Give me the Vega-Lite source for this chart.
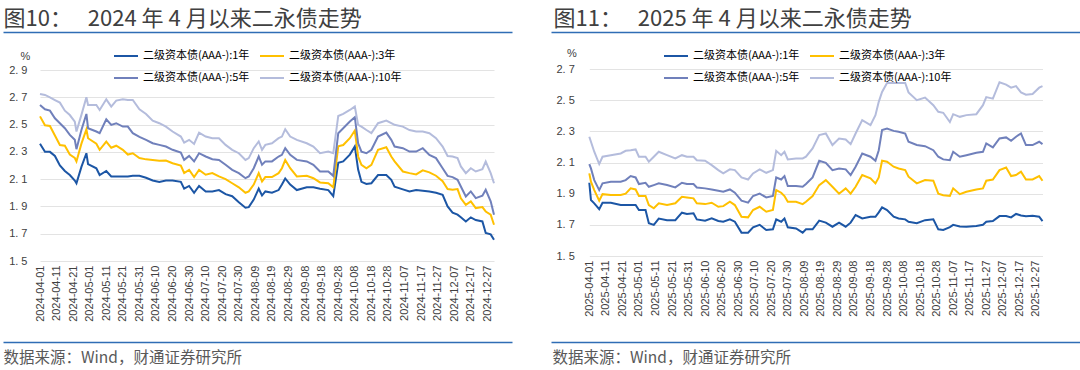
{
"$schema": "https://vega.github.io/schema/vega-lite/v6.json",
"autosize": {"type": "none"},
"padding": {"left": 3, "top": 32, "right": 0, "bottom": 28},
"width": 1077,
"height": 310,
"background": "#ffffff",
"config": {"view": {"stroke": null}, "font": "Liberation Sans"},
"datasets": {
"a": [
{"d":"2024-04-01","s":"1年","v":2.36},{"d":"2024-04-04","s":"1年","v":2.30},{"d":"2024-04-07","s":"1年","v":2.30},{"d":"2024-04-10","s":"1年","v":2.27},{"d":"2024-04-13","s":"1年","v":2.20},{"d":"2024-04-16","s":"1年","v":2.16},{"d":"2024-04-19","s":"1年","v":2.13},{"d":"2024-04-22","s":"1年","v":2.09},{"d":"2024-04-23","s":"1年","v":2.07},{"d":"2024-04-26","s":"1年","v":2.19},
{"d":"2024-04-29","s":"1年","v":2.29},{"d":"2024-04-30","s":"1年","v":2.21},{"d":"2024-05-05","s":"1年","v":2.18},{"d":"2024-05-07","s":"1年","v":2.13},{"d":"2024-05-11","s":"1年","v":2.16},{"d":"2024-05-14","s":"1年","v":2.12},{"d":"2024-05-17","s":"1年","v":2.12},{"d":"2024-05-21","s":"1年","v":2.12},{"d":"2024-05-24","s":"1年","v":2.12},{"d":"2024-05-27","s":"1年","v":2.125},
{"d":"2024-05-31","s":"1年","v":2.125},{"d":"2024-06-04","s":"1年","v":2.11},{"d":"2024-06-08","s":"1年","v":2.09},{"d":"2024-06-12","s":"1年","v":2.08},{"d":"2024-06-16","s":"1年","v":2.09},{"d":"2024-06-20","s":"1年","v":2.09},{"d":"2024-06-25","s":"1年","v":2.08},{"d":"2024-06-27","s":"1年","v":2.03},{"d":"2024-06-30","s":"1年","v":2.05},{"d":"2024-07-03","s":"1年","v":2.00},
{"d":"2024-07-06","s":"1年","v":2.05},{"d":"2024-07-10","s":"1年","v":2.01},{"d":"2024-07-14","s":"1年","v":2.01},{"d":"2024-07-18","s":"1年","v":2.02},{"d":"2024-07-22","s":"1年","v":1.99},{"d":"2024-07-26","s":"1年","v":1.975},{"d":"2024-07-30","s":"1年","v":1.93},{"d":"2024-08-03","s":"1年","v":1.89},{"d":"2024-08-05","s":"1年","v":1.895},{"d":"2024-08-08","s":"1年","v":1.95},
{"d":"2024-08-11","s":"1年","v":2.03},{"d":"2024-08-13","s":"1年","v":1.98},{"d":"2024-08-15","s":"1年","v":2.01},{"d":"2024-08-19","s":"1年","v":2.00},{"d":"2024-08-23","s":"1年","v":2.02},{"d":"2024-08-25","s":"1年","v":2.06},{"d":"2024-08-27","s":"1年","v":2.105},{"d":"2024-08-30","s":"1年","v":2.06},{"d":"2024-09-03","s":"1年","v":2.02},{"d":"2024-09-09","s":"1年","v":2.04},
{"d":"2024-09-13","s":"1年","v":2.04},{"d":"2024-09-17","s":"1年","v":2.03},{"d":"2024-09-22","s":"1年","v":2.02},{"d":"2024-09-25","s":"1年","v":1.975},{"d":"2024-09-28","s":"1年","v":2.22},{"d":"2024-10-01","s":"1年","v":2.23},{"d":"2024-10-05","s":"1年","v":2.28},{"d":"2024-10-08","s":"1年","v":2.34},{"d":"2024-10-10","s":"1年","v":2.17},{"d":"2024-10-12","s":"1年","v":2.08},
{"d":"2024-10-15","s":"1年","v":2.065},{"d":"2024-10-18","s":"1年","v":2.07},{"d":"2024-10-22","s":"1年","v":2.13},{"d":"2024-10-27","s":"1年","v":2.13},{"d":"2024-10-30","s":"1年","v":2.095},{"d":"2024-11-01","s":"1年","v":2.045},{"d":"2024-11-06","s":"1年","v":2.025},{"d":"2024-11-10","s":"1年","v":2.01},{"d":"2024-11-14","s":"1年","v":2.02},{"d":"2024-11-18","s":"1年","v":2.015},
{"d":"2024-11-22","s":"1年","v":2.01},{"d":"2024-11-26","s":"1年","v":2.00},{"d":"2024-11-30","s":"1年","v":1.985},{"d":"2024-12-03","s":"1年","v":1.90},{"d":"2024-12-06","s":"1年","v":1.855},{"d":"2024-12-09","s":"1年","v":1.84},{"d":"2024-12-11","s":"1年","v":1.82},{"d":"2024-12-14","s":"1年","v":1.79},{"d":"2024-12-17","s":"1年","v":1.82},{"d":"2024-12-20","s":"1年","v":1.80},
{"d":"2024-12-24","s":"1年","v":1.79},{"d":"2024-12-26","s":"1年","v":1.705},{"d":"2024-12-29","s":"1年","v":1.695},{"d":"2024-12-31","s":"1年","v":1.655},

{"d":"2024-04-01","s":"3年","v":2.56},{"d":"2024-04-04","s":"3年","v":2.495},{"d":"2024-04-07","s":"3年","v":2.49},{"d":"2024-04-10","s":"3年","v":2.42},{"d":"2024-04-13","s":"3年","v":2.35},{"d":"2024-04-16","s":"3年","v":2.345},{"d":"2024-04-19","s":"3年","v":2.28},{"d":"2024-04-22","s":"3年","v":2.255},{"d":"2024-04-23","s":"3年","v":2.23},{"d":"2024-04-26","s":"3年","v":2.36},
{"d":"2024-04-29","s":"3年","v":2.465},{"d":"2024-04-30","s":"3年","v":2.40},{"d":"2024-05-05","s":"3年","v":2.36},{"d":"2024-05-07","s":"3年","v":2.315},{"d":"2024-05-11","s":"3年","v":2.375},{"d":"2024-05-14","s":"3年","v":2.33},{"d":"2024-05-17","s":"3年","v":2.345},{"d":"2024-05-21","s":"3年","v":2.315},{"d":"2024-05-24","s":"3年","v":2.28},{"d":"2024-05-27","s":"3年","v":2.29},
{"d":"2024-05-31","s":"3年","v":2.255},{"d":"2024-06-04","s":"3年","v":2.245},{"d":"2024-06-08","s":"3年","v":2.24},{"d":"2024-06-12","s":"3年","v":2.235},{"d":"2024-06-16","s":"3年","v":2.237},{"d":"2024-06-20","s":"3年","v":2.217},{"d":"2024-06-25","s":"3年","v":2.20},{"d":"2024-06-27","s":"3年","v":2.145},{"d":"2024-06-30","s":"3年","v":2.168},{"d":"2024-07-03","s":"3年","v":2.115},
{"d":"2024-07-06","s":"3年","v":2.168},{"d":"2024-07-10","s":"3年","v":2.132},{"d":"2024-07-14","s":"3年","v":2.144},{"d":"2024-07-18","s":"3年","v":2.12},{"d":"2024-07-22","s":"3年","v":2.10},{"d":"2024-07-26","s":"3年","v":2.07},{"d":"2024-07-30","s":"3年","v":2.04},{"d":"2024-08-03","s":"3年","v":2.00},{"d":"2024-08-05","s":"3年","v":2.01},{"d":"2024-08-08","s":"3年","v":2.06},
{"d":"2024-08-11","s":"3年","v":2.144},{"d":"2024-08-13","s":"3年","v":2.083},{"d":"2024-08-15","s":"3年","v":2.115},{"d":"2024-08-19","s":"3年","v":2.115},{"d":"2024-08-23","s":"3年","v":2.144},{"d":"2024-08-25","s":"3年","v":2.18},{"d":"2024-08-27","s":"3年","v":2.24},{"d":"2024-08-30","s":"3年","v":2.18},{"d":"2024-09-03","s":"3年","v":2.12},{"d":"2024-09-09","s":"3年","v":2.125},
{"d":"2024-09-13","s":"3年","v":2.107},{"d":"2024-09-17","s":"3年","v":2.076},{"d":"2024-09-22","s":"3年","v":2.07},{"d":"2024-09-25","s":"3年","v":2.04},{"d":"2024-09-28","s":"3年","v":2.34},{"d":"2024-10-01","s":"3年","v":2.35},{"d":"2024-10-05","s":"3年","v":2.40},{"d":"2024-10-08","s":"3年","v":2.456},{"d":"2024-10-10","s":"3年","v":2.266},{"d":"2024-10-12","s":"3年","v":2.205},
{"d":"2024-10-15","s":"3年","v":2.18},{"d":"2024-10-18","s":"3年","v":2.205},{"d":"2024-10-22","s":"3年","v":2.315},{"d":"2024-10-27","s":"3年","v":2.334},{"d":"2024-10-30","s":"3年","v":2.266},{"d":"2024-11-01","s":"3年","v":2.23},{"d":"2024-11-06","s":"3年","v":2.156},{"d":"2024-11-10","s":"3年","v":2.144},{"d":"2024-11-14","s":"3年","v":2.135},{"d":"2024-11-18","s":"3年","v":2.165},
{"d":"2024-11-22","s":"3年","v":2.15},{"d":"2024-11-26","s":"3年","v":2.125},{"d":"2024-11-30","s":"3年","v":2.085},{"d":"2024-12-03","s":"3年","v":2.027},{"d":"2024-12-06","s":"3年","v":2.022},{"d":"2024-12-09","s":"3年","v":2.027},{"d":"2024-12-11","s":"3年","v":1.96},{"d":"2024-12-14","s":"3年","v":1.912},{"d":"2024-12-17","s":"3年","v":1.937},{"d":"2024-12-20","s":"3年","v":1.888},
{"d":"2024-12-24","s":"3年","v":1.895},{"d":"2024-12-26","s":"3年","v":1.863},{"d":"2024-12-29","s":"3年","v":1.84},{"d":"2024-12-31","s":"3年","v":1.766},

{"d":"2024-04-01","s":"5年","v":2.644},{"d":"2024-04-04","s":"5年","v":2.612},{"d":"2024-04-07","s":"5年","v":2.602},{"d":"2024-04-10","s":"5年","v":2.546},{"d":"2024-04-13","s":"5年","v":2.51},{"d":"2024-04-16","s":"5年","v":2.473},{"d":"2024-04-19","s":"5年","v":2.424},{"d":"2024-04-22","s":"5年","v":2.388},{"d":"2024-04-23","s":"5年","v":2.32},{"d":"2024-04-26","s":"5年","v":2.46},
{"d":"2024-04-29","s":"5年","v":2.578},{"d":"2024-04-30","s":"5年","v":2.473},{"d":"2024-05-05","s":"5年","v":2.449},{"d":"2024-05-07","s":"5年","v":2.437},{"d":"2024-05-11","s":"5年","v":2.539},{"d":"2024-05-14","s":"5年","v":2.498},{"d":"2024-05-17","s":"5年","v":2.51},{"d":"2024-05-21","s":"5年","v":2.485},{"d":"2024-05-24","s":"5年","v":2.485},{"d":"2024-05-27","s":"5年","v":2.437},
{"d":"2024-05-31","s":"5年","v":2.41},{"d":"2024-06-04","s":"5年","v":2.388},{"d":"2024-06-08","s":"5年","v":2.363},{"d":"2024-06-12","s":"5年","v":2.351},{"d":"2024-06-16","s":"5年","v":2.339},{"d":"2024-06-20","s":"5年","v":2.315},{"d":"2024-06-25","s":"5年","v":2.295},{"d":"2024-06-27","s":"5年","v":2.241},{"d":"2024-06-30","s":"5年","v":2.27},{"d":"2024-07-03","s":"5年","v":2.23},
{"d":"2024-07-06","s":"5年","v":2.29},{"d":"2024-07-10","s":"5年","v":2.266},{"d":"2024-07-14","s":"5年","v":2.246},{"d":"2024-07-18","s":"5年","v":2.241},{"d":"2024-07-22","s":"5年","v":2.205},{"d":"2024-07-26","s":"5年","v":2.168},{"d":"2024-07-30","s":"5年","v":2.144},{"d":"2024-08-03","s":"5年","v":2.107},{"d":"2024-08-05","s":"5年","v":2.12},{"d":"2024-08-08","s":"5年","v":2.18},
{"d":"2024-08-11","s":"5年","v":2.266},{"d":"2024-08-13","s":"5年","v":2.205},{"d":"2024-08-15","s":"5年","v":2.23},{"d":"2024-08-19","s":"5年","v":2.23},{"d":"2024-08-23","s":"5年","v":2.266},{"d":"2024-08-25","s":"5年","v":2.278},{"d":"2024-08-27","s":"5年","v":2.327},{"d":"2024-08-30","s":"5年","v":2.278},{"d":"2024-09-03","s":"5年","v":2.241},{"d":"2024-09-09","s":"5年","v":2.23},
{"d":"2024-09-13","s":"5年","v":2.205},{"d":"2024-09-17","s":"5年","v":2.156},{"d":"2024-09-22","s":"5年","v":2.156},{"d":"2024-09-25","s":"5年","v":2.124},{"d":"2024-09-28","s":"5年","v":2.437},{"d":"2024-10-01","s":"5年","v":2.473},{"d":"2024-10-05","s":"5年","v":2.522},{"d":"2024-10-08","s":"5年","v":2.554},{"d":"2024-10-10","s":"5年","v":2.363},{"d":"2024-10-12","s":"5年","v":2.302},
{"d":"2024-10-15","s":"5年","v":2.29},{"d":"2024-10-18","s":"5年","v":2.315},{"d":"2024-10-22","s":"5年","v":2.412},{"d":"2024-10-27","s":"5年","v":2.441},{"d":"2024-10-30","s":"5年","v":2.388},{"d":"2024-11-01","s":"5年","v":2.339},{"d":"2024-11-06","s":"5年","v":2.327},{"d":"2024-11-10","s":"5年","v":2.302},{"d":"2024-11-14","s":"5年","v":2.302},{"d":"2024-11-18","s":"5年","v":2.327},
{"d":"2024-11-22","s":"5年","v":2.278},{"d":"2024-11-26","s":"5年","v":2.254},{"d":"2024-11-30","s":"5年","v":2.18},{"d":"2024-12-03","s":"5年","v":2.124},{"d":"2024-12-06","s":"5年","v":2.115},{"d":"2024-12-09","s":"5年","v":2.095},{"d":"2024-12-11","s":"5年","v":2.046},{"d":"2024-12-14","s":"5年","v":1.973},{"d":"2024-12-17","s":"5年","v":2.01},{"d":"2024-12-20","s":"5年","v":1.961},
{"d":"2024-12-24","s":"5年","v":1.978},{"d":"2024-12-26","s":"5年","v":2.022},{"d":"2024-12-29","s":"5年","v":1.937},{"d":"2024-12-31","s":"5年","v":1.839},

{"d":"2024-04-01","s":"10年","v":2.724},{"d":"2024-04-04","s":"10年","v":2.717},{"d":"2024-04-07","s":"10年","v":2.70},{"d":"2024-04-10","s":"10年","v":2.68},{"d":"2024-04-13","s":"10年","v":2.661},{"d":"2024-04-16","s":"10年","v":2.602},{"d":"2024-04-19","s":"10年","v":2.57},{"d":"2024-04-22","s":"10年","v":2.522},{"d":"2024-04-23","s":"10年","v":2.449},{"d":"2024-04-26","s":"10年","v":2.571},
{"d":"2024-04-29","s":"10年","v":2.70},{"d":"2024-04-30","s":"10年","v":2.644},{"d":"2024-05-05","s":"10年","v":2.644},{"d":"2024-05-07","s":"10年","v":2.607},{"d":"2024-05-11","s":"10年","v":2.685},{"d":"2024-05-14","s":"10年","v":2.632},{"d":"2024-05-17","s":"10年","v":2.676},{"d":"2024-05-21","s":"10年","v":2.685},{"d":"2024-05-24","s":"10年","v":2.68},{"d":"2024-05-27","s":"10年","v":2.68},
{"d":"2024-05-31","s":"10年","v":2.612},{"d":"2024-06-04","s":"10年","v":2.578},{"d":"2024-06-08","s":"10年","v":2.529},{"d":"2024-06-12","s":"10年","v":2.51},{"d":"2024-06-16","s":"10年","v":2.485},{"d":"2024-06-20","s":"10年","v":2.449},{"d":"2024-06-25","s":"10年","v":2.412},{"d":"2024-06-27","s":"10年","v":2.368},{"d":"2024-06-30","s":"10年","v":2.388},{"d":"2024-07-03","s":"10年","v":2.358},
{"d":"2024-07-06","s":"10年","v":2.441},{"d":"2024-07-10","s":"10年","v":2.412},{"d":"2024-07-14","s":"10年","v":2.40},{"d":"2024-07-18","s":"10年","v":2.40},{"d":"2024-07-22","s":"10年","v":2.351},{"d":"2024-07-26","s":"10年","v":2.315},{"d":"2024-07-30","s":"10年","v":2.29},{"d":"2024-08-03","s":"10年","v":2.241},{"d":"2024-08-05","s":"10年","v":2.254},{"d":"2024-08-08","s":"10年","v":2.327},
{"d":"2024-08-11","s":"10年","v":2.376},{"d":"2024-08-13","s":"10年","v":2.315},{"d":"2024-08-15","s":"10年","v":2.351},{"d":"2024-08-19","s":"10年","v":2.363},{"d":"2024-08-23","s":"10年","v":2.40},{"d":"2024-08-25","s":"10年","v":2.412},{"d":"2024-08-27","s":"10年","v":2.466},{"d":"2024-08-30","s":"10年","v":2.412},{"d":"2024-09-03","s":"10年","v":2.388},{"d":"2024-09-09","s":"10年","v":2.363},
{"d":"2024-09-13","s":"10年","v":2.339},{"d":"2024-09-17","s":"10年","v":2.29},{"d":"2024-09-22","s":"10年","v":2.302},{"d":"2024-09-25","s":"10年","v":2.29},{"d":"2024-09-28","s":"10年","v":2.563},{"d":"2024-10-01","s":"10年","v":2.578},{"d":"2024-10-05","s":"10年","v":2.607},{"d":"2024-10-08","s":"10年","v":2.632},{"d":"2024-10-10","s":"10年","v":2.498},{"d":"2024-10-12","s":"10年","v":2.485},
{"d":"2024-10-15","s":"10年","v":2.46},{"d":"2024-10-18","s":"10年","v":2.437},{"d":"2024-10-22","s":"10年","v":2.51},{"d":"2024-10-27","s":"10年","v":2.529},{"d":"2024-10-30","s":"10年","v":2.51},{"d":"2024-11-01","s":"10年","v":2.498},{"d":"2024-11-06","s":"10年","v":2.485},{"d":"2024-11-10","s":"10年","v":2.46},{"d":"2024-11-14","s":"10年","v":2.449},{"d":"2024-11-18","s":"10年","v":2.449},
{"d":"2024-11-22","s":"10年","v":2.437},{"d":"2024-11-26","s":"10年","v":2.40},{"d":"2024-11-30","s":"10年","v":2.339},{"d":"2024-12-03","s":"10年","v":2.27},{"d":"2024-12-06","s":"10年","v":2.266},{"d":"2024-12-09","s":"10年","v":2.254},{"d":"2024-12-11","s":"10年","v":2.193},{"d":"2024-12-14","s":"10年","v":2.144},{"d":"2024-12-17","s":"10年","v":2.18},{"d":"2024-12-20","s":"10年","v":2.156},
{"d":"2024-12-24","s":"10年","v":2.173},{"d":"2024-12-26","s":"10年","v":2.229},{"d":"2024-12-29","s":"10年","v":2.144},{"d":"2024-12-31","s":"10年","v":2.07}
],
"b": [
{"d":"2025-04-01","s":"1年","v":1.97},{"d":"2025-04-02","s":"1年","v":1.859},{"d":"2025-04-04","s":"1年","v":1.838},{"d":"2025-04-07","s":"1年","v":1.80},{"d":"2025-04-09","s":"1年","v":1.842},{"d":"2025-04-14","s":"1年","v":1.842},{"d":"2025-04-20","s":"1年","v":1.827},{"d":"2025-04-23","s":"1年","v":1.827},{"d":"2025-04-26","s":"1年","v":1.827},{"d":"2025-04-29","s":"1年","v":1.827},
{"d":"2025-05-01","s":"1年","v":1.795},{"d":"2025-05-05","s":"1年","v":1.795},{"d":"2025-05-07","s":"1年","v":1.71},{"d":"2025-05-10","s":"1年","v":1.70},{"d":"2025-05-13","s":"1年","v":1.74},{"d":"2025-05-18","s":"1年","v":1.73},{"d":"2025-05-23","s":"1年","v":1.73},{"d":"2025-05-27","s":"1年","v":1.778},{"d":"2025-05-30","s":"1年","v":1.77},{"d":"2025-06-03","s":"1年","v":1.774},
{"d":"2025-06-05","s":"1年","v":1.735},{"d":"2025-06-10","s":"1年","v":1.727},{"d":"2025-06-14","s":"1年","v":1.742},{"d":"2025-06-18","s":"1年","v":1.725},{"d":"2025-06-21","s":"1年","v":1.72},{"d":"2025-06-25","s":"1年","v":1.735},{"d":"2025-06-28","s":"1年","v":1.72},{"d":"2025-07-02","s":"1年","v":1.65},{"d":"2025-07-06","s":"1年","v":1.65},{"d":"2025-07-09","s":"1年","v":1.684},
{"d":"2025-07-13","s":"1年","v":1.70},{"d":"2025-07-17","s":"1年","v":1.667},{"d":"2025-07-21","s":"1年","v":1.671},{"d":"2025-07-23","s":"1年","v":1.735},{"d":"2025-07-26","s":"1年","v":1.72},{"d":"2025-07-28","s":"1年","v":1.741},{"d":"2025-07-30","s":"1年","v":1.684},{"d":"2025-08-04","s":"1年","v":1.677},{"d":"2025-08-08","s":"1年","v":1.65},{"d":"2025-08-10","s":"1年","v":1.671},
{"d":"2025-08-14","s":"1年","v":1.671},{"d":"2025-08-18","s":"1年","v":1.727},{"d":"2025-08-22","s":"1年","v":1.714},{"d":"2025-08-26","s":"1年","v":1.688},{"d":"2025-08-30","s":"1年","v":1.714},{"d":"2025-09-03","s":"1年","v":1.688},{"d":"2025-09-06","s":"1年","v":1.714},{"d":"2025-09-09","s":"1年","v":1.763},{"d":"2025-09-13","s":"1年","v":1.741},{"d":"2025-09-18","s":"1年","v":1.752},
{"d":"2025-09-21","s":"1年","v":1.752},{"d":"2025-09-23","s":"1年","v":1.78},{"d":"2025-09-25","s":"1年","v":1.812},{"d":"2025-09-28","s":"1年","v":1.795},{"d":"2025-10-02","s":"1年","v":1.752},{"d":"2025-10-05","s":"1年","v":1.741},{"d":"2025-10-09","s":"1年","v":1.735},{"d":"2025-10-11","s":"1年","v":1.72},{"d":"2025-10-16","s":"1年","v":1.71},{"d":"2025-10-21","s":"1年","v":1.73},
{"d":"2025-10-26","s":"1年","v":1.735},{"d":"2025-10-29","s":"1年","v":1.671},{"d":"2025-11-01","s":"1年","v":1.667},{"d":"2025-11-05","s":"1年","v":1.685},{"d":"2025-11-07","s":"1年","v":1.70},{"d":"2025-11-11","s":"1年","v":1.69},{"d":"2025-11-15","s":"1年","v":1.688},{"d":"2025-11-21","s":"1年","v":1.692},{"d":"2025-11-25","s":"1年","v":1.70},{"d":"2025-11-27","s":"1年","v":1.72},
{"d":"2025-12-01","s":"1年","v":1.724},{"d":"2025-12-05","s":"1年","v":1.756},{"d":"2025-12-09","s":"1年","v":1.756},{"d":"2025-12-12","s":"1年","v":1.748},{"d":"2025-12-15","s":"1年","v":1.77},{"d":"2025-12-18","s":"1年","v":1.76},{"d":"2025-12-21","s":"1年","v":1.755},{"d":"2025-12-25","s":"1年","v":1.758},{"d":"2025-12-29","s":"1年","v":1.752},{"d":"2025-12-31","s":"1年","v":1.724},

{"d":"2025-04-01","s":"3年","v":2.03},{"d":"2025-04-02","s":"3年","v":1.977},{"d":"2025-04-04","s":"3年","v":1.923},{"d":"2025-04-07","s":"3年","v":1.855},{"d":"2025-04-09","s":"3年","v":1.897},{"d":"2025-04-14","s":"3年","v":1.891},{"d":"2025-04-20","s":"3年","v":1.891},{"d":"2025-04-23","s":"3年","v":1.90},{"d":"2025-04-26","s":"3年","v":1.934},{"d":"2025-04-29","s":"3年","v":1.927},
{"d":"2025-05-01","s":"3年","v":1.885},{"d":"2025-05-05","s":"3年","v":1.885},{"d":"2025-05-07","s":"3年","v":1.827},{"d":"2025-05-10","s":"3年","v":1.806},{"d":"2025-05-13","s":"3年","v":1.838},{"d":"2025-05-18","s":"3年","v":1.827},{"d":"2025-05-23","s":"3年","v":1.838},{"d":"2025-05-27","s":"3年","v":1.88},{"d":"2025-05-30","s":"3年","v":1.876},{"d":"2025-06-03","s":"3年","v":1.87},
{"d":"2025-06-05","s":"3年","v":1.838},{"d":"2025-06-10","s":"3年","v":1.833},{"d":"2025-06-14","s":"3年","v":1.842},{"d":"2025-06-18","s":"3年","v":1.816},{"d":"2025-06-21","s":"3年","v":1.82},{"d":"2025-06-25","s":"3年","v":1.848},{"d":"2025-06-28","s":"3年","v":1.827},{"d":"2025-07-02","s":"3年","v":1.752},{"d":"2025-07-06","s":"3年","v":1.748},{"d":"2025-07-09","s":"3年","v":1.795},
{"d":"2025-07-13","s":"3年","v":1.816},{"d":"2025-07-17","s":"3年","v":1.784},{"d":"2025-07-21","s":"3年","v":1.795},{"d":"2025-07-23","s":"3年","v":1.923},{"d":"2025-07-26","s":"3年","v":1.906},{"d":"2025-07-28","s":"3年","v":1.885},{"d":"2025-07-30","s":"3年","v":1.848},{"d":"2025-08-04","s":"3年","v":1.848},{"d":"2025-08-08","s":"3年","v":1.833},{"d":"2025-08-10","s":"3年","v":1.848},
{"d":"2025-08-14","s":"3年","v":1.885},{"d":"2025-08-18","s":"3年","v":1.955},{"d":"2025-08-22","s":"3年","v":1.987},{"d":"2025-08-26","s":"3年","v":1.944},{"d":"2025-08-30","s":"3年","v":1.90},{"d":"2025-09-03","s":"3年","v":1.934},{"d":"2025-09-06","s":"3年","v":1.90},{"d":"2025-09-09","s":"3年","v":1.944},{"d":"2025-09-13","s":"3年","v":2.02},{"d":"2025-09-18","s":"3年","v":1.998},
{"d":"2025-09-21","s":"3年","v":1.966},{"d":"2025-09-23","s":"3年","v":2.004},{"d":"2025-09-25","s":"3年","v":2.111},{"d":"2025-09-28","s":"3年","v":2.105},{"d":"2025-10-02","s":"3年","v":2.073},{"d":"2025-10-05","s":"3年","v":2.062},{"d":"2025-10-09","s":"3年","v":2.051},{"d":"2025-10-11","s":"3年","v":2.009},{"d":"2025-10-16","s":"3年","v":1.966},{"d":"2025-10-21","s":"3年","v":1.987},
{"d":"2025-10-26","s":"3年","v":1.983},{"d":"2025-10-29","s":"3年","v":1.90},{"d":"2025-11-01","s":"3年","v":1.89},{"d":"2025-11-05","s":"3年","v":1.885},{"d":"2025-11-07","s":"3年","v":1.934},{"d":"2025-11-11","s":"3年","v":1.897},{"d":"2025-11-15","s":"3年","v":1.912},{"d":"2025-11-21","s":"3年","v":1.927},{"d":"2025-11-25","s":"3年","v":1.934},{"d":"2025-11-27","s":"3年","v":1.983},
{"d":"2025-12-01","s":"3年","v":1.991},{"d":"2025-12-05","s":"3年","v":2.051},{"d":"2025-12-09","s":"3年","v":2.068},{"d":"2025-12-12","s":"3年","v":2.013},{"d":"2025-12-15","s":"3年","v":2.02},{"d":"2025-12-18","s":"3年","v":2.041},{"d":"2025-12-21","s":"3年","v":1.991},{"d":"2025-12-25","s":"3年","v":1.991},{"d":"2025-12-29","s":"3年","v":2.013},{"d":"2025-12-31","s":"3年","v":1.983},

{"d":"2025-04-01","s":"5年","v":2.09},{"d":"2025-04-02","s":"5年","v":2.062},{"d":"2025-04-04","s":"5年","v":1.987},{"d":"2025-04-07","s":"5年","v":1.923},{"d":"2025-04-09","s":"5年","v":1.966},{"d":"2025-04-14","s":"5年","v":1.977},{"d":"2025-04-20","s":"5年","v":1.977},{"d":"2025-04-23","s":"5年","v":1.987},{"d":"2025-04-26","s":"5年","v":2.013},{"d":"2025-04-29","s":"5年","v":2.004},
{"d":"2025-05-01","s":"5年","v":1.962},{"d":"2025-05-05","s":"5年","v":1.97},{"d":"2025-05-07","s":"5年","v":1.944},{"d":"2025-05-10","s":"5年","v":1.955},{"d":"2025-05-13","s":"5年","v":1.966},{"d":"2025-05-18","s":"5年","v":1.955},{"d":"2025-05-23","s":"5年","v":1.94},{"d":"2025-05-27","s":"5年","v":1.97},{"d":"2025-05-30","s":"5年","v":1.962},{"d":"2025-06-03","s":"5年","v":1.962},
{"d":"2025-06-05","s":"5年","v":1.94},{"d":"2025-06-10","s":"5年","v":1.934},{"d":"2025-06-14","s":"5年","v":1.927},{"d":"2025-06-18","s":"5年","v":1.919},{"d":"2025-06-21","s":"5年","v":1.912},{"d":"2025-06-25","s":"5年","v":1.927},{"d":"2025-06-28","s":"5年","v":1.906},{"d":"2025-07-02","s":"5年","v":1.855},{"d":"2025-07-06","s":"5年","v":1.842},{"d":"2025-07-09","s":"5年","v":1.885},
{"d":"2025-07-13","s":"5年","v":1.90},{"d":"2025-07-17","s":"5年","v":1.876},{"d":"2025-07-21","s":"5年","v":1.885},{"d":"2025-07-23","s":"5年","v":2.004},{"d":"2025-07-26","s":"5年","v":1.991},{"d":"2025-07-28","s":"5年","v":2.013},{"d":"2025-07-30","s":"5年","v":1.949},{"d":"2025-08-04","s":"5年","v":1.949},{"d":"2025-08-08","s":"5年","v":1.944},{"d":"2025-08-10","s":"5年","v":1.962},
{"d":"2025-08-14","s":"5年","v":2.004},{"d":"2025-08-18","s":"5年","v":2.111},{"d":"2025-08-22","s":"5年","v":2.098},{"d":"2025-08-26","s":"5年","v":2.051},{"d":"2025-08-30","s":"5年","v":2.062},{"d":"2025-09-03","s":"5年","v":2.056},{"d":"2025-09-06","s":"5年","v":2.019},{"d":"2025-09-09","s":"5年","v":2.073},{"d":"2025-09-13","s":"5年","v":2.158},{"d":"2025-09-18","s":"5年","v":2.137},
{"d":"2025-09-21","s":"5年","v":2.111},{"d":"2025-09-23","s":"5年","v":2.179},{"d":"2025-09-25","s":"5年","v":2.308},{"d":"2025-09-28","s":"5年","v":2.318},{"d":"2025-10-02","s":"5年","v":2.303},{"d":"2025-10-05","s":"5年","v":2.297},{"d":"2025-10-09","s":"5年","v":2.286},{"d":"2025-10-11","s":"5年","v":2.233},{"d":"2025-10-16","s":"5年","v":2.212},{"d":"2025-10-21","s":"5年","v":2.205},
{"d":"2025-10-26","s":"5年","v":2.179},{"d":"2025-10-29","s":"5年","v":2.137},{"d":"2025-11-01","s":"5年","v":2.12},{"d":"2025-11-05","s":"5年","v":2.115},{"d":"2025-11-07","s":"5年","v":2.169},{"d":"2025-11-11","s":"5年","v":2.137},{"d":"2025-11-15","s":"5年","v":2.147},{"d":"2025-11-21","s":"5年","v":2.162},{"d":"2025-11-25","s":"5年","v":2.169},{"d":"2025-11-27","s":"5年","v":2.222},
{"d":"2025-12-01","s":"5年","v":2.197},{"d":"2025-12-05","s":"5年","v":2.254},{"d":"2025-12-09","s":"5年","v":2.261},{"d":"2025-12-12","s":"5年","v":2.239},{"d":"2025-12-15","s":"5年","v":2.265},{"d":"2025-12-18","s":"5年","v":2.286},{"d":"2025-12-21","s":"5年","v":2.212},{"d":"2025-12-25","s":"5年","v":2.212},{"d":"2025-12-29","s":"5年","v":2.233},{"d":"2025-12-31","s":"5年","v":2.218},

{"d":"2025-04-01","s":"10年","v":2.265},{"d":"2025-04-02","s":"10年","v":2.233},{"d":"2025-04-04","s":"10年","v":2.169},{"d":"2025-04-07","s":"10年","v":2.09},{"d":"2025-04-09","s":"10年","v":2.137},{"d":"2025-04-14","s":"10年","v":2.147},{"d":"2025-04-20","s":"10年","v":2.158},{"d":"2025-04-23","s":"10年","v":2.175},{"d":"2025-04-26","s":"10年","v":2.179},{"d":"2025-04-29","s":"10年","v":2.184},
{"d":"2025-05-01","s":"10年","v":2.137},{"d":"2025-05-05","s":"10年","v":2.137},{"d":"2025-05-07","s":"10年","v":2.105},{"d":"2025-05-10","s":"10年","v":2.137},{"d":"2025-05-13","s":"10年","v":2.169},{"d":"2025-05-18","s":"10年","v":2.147},{"d":"2025-05-23","s":"10年","v":2.126},{"d":"2025-05-27","s":"10年","v":2.147},{"d":"2025-05-30","s":"10年","v":2.137},{"d":"2025-06-03","s":"10年","v":2.137},
{"d":"2025-06-05","s":"10年","v":2.115},{"d":"2025-06-10","s":"10年","v":2.111},{"d":"2025-06-14","s":"10年","v":2.083},{"d":"2025-06-18","s":"10年","v":2.051},{"d":"2025-06-21","s":"10年","v":2.03},{"d":"2025-06-25","s":"10年","v":2.056},{"d":"2025-06-28","s":"10年","v":2.051},{"d":"2025-07-02","s":"10年","v":2.004},{"d":"2025-07-06","s":"10年","v":1.991},{"d":"2025-07-09","s":"10年","v":2.03},
{"d":"2025-07-13","s":"10年","v":2.056},{"d":"2025-07-17","s":"10年","v":2.034},{"d":"2025-07-21","s":"10年","v":2.051},{"d":"2025-07-23","s":"10年","v":2.175},{"d":"2025-07-26","s":"10年","v":2.147},{"d":"2025-07-28","s":"10年","v":2.169},{"d":"2025-07-30","s":"10年","v":2.12},{"d":"2025-08-04","s":"10年","v":2.126},{"d":"2025-08-08","s":"10年","v":2.126},{"d":"2025-08-10","s":"10年","v":2.137},
{"d":"2025-08-14","s":"10年","v":2.19},{"d":"2025-08-18","s":"10年","v":2.276},{"d":"2025-08-22","s":"10年","v":2.286},{"d":"2025-08-26","s":"10年","v":2.212},{"d":"2025-08-30","s":"10年","v":2.254},{"d":"2025-09-03","s":"10年","v":2.248},{"d":"2025-09-06","s":"10年","v":2.218},{"d":"2025-09-09","s":"10年","v":2.286},{"d":"2025-09-13","s":"10年","v":2.372},{"d":"2025-09-18","s":"10年","v":2.34},
{"d":"2025-09-21","s":"10年","v":2.404},{"d":"2025-09-23","s":"10年","v":2.489},{"d":"2025-09-25","s":"10年","v":2.553},{"d":"2025-09-28","s":"10年","v":2.61},{"d":"2025-10-02","s":"10年","v":2.61},{"d":"2025-10-05","s":"10年","v":2.61},{"d":"2025-10-09","s":"10年","v":2.61},{"d":"2025-10-11","s":"10年","v":2.55},{"d":"2025-10-16","s":"10年","v":2.50},{"d":"2025-10-21","s":"10年","v":2.517},
{"d":"2025-10-26","s":"10年","v":2.468},{"d":"2025-10-29","s":"10年","v":2.425},{"d":"2025-11-01","s":"10年","v":2.419},{"d":"2025-11-05","s":"10年","v":2.36},{"d":"2025-11-07","s":"10年","v":2.41},{"d":"2025-11-11","s":"10年","v":2.393},{"d":"2025-11-15","s":"10年","v":2.404},{"d":"2025-11-21","s":"10年","v":2.41},{"d":"2025-11-25","s":"10年","v":2.468},{"d":"2025-11-27","s":"10年","v":2.52},
{"d":"2025-12-01","s":"10年","v":2.51},{"d":"2025-12-05","s":"10年","v":2.615},{"d":"2025-12-09","s":"10年","v":2.60},{"d":"2025-12-12","s":"10年","v":2.58},{"d":"2025-12-15","s":"10年","v":2.59},{"d":"2025-12-18","s":"10年","v":2.55},{"d":"2025-12-21","s":"10年","v":2.535},{"d":"2025-12-25","s":"10年","v":2.54},{"d":"2025-12-29","s":"10年","v":2.58},{"d":"2025-12-31","s":"10年","v":2.59}
]
},
"layer": [
{
"data": {"name": "a"},
"mark": {"type": "line", "strokeWidth": 2},
"encoding": {
"x": {"field": "d", "type": "temporal",
"scale": {"type": "utc", "domain": [{"year":2024,"month":4,"date":1,"utc":true},{"year":2024,"month":12,"date":31,"utc":true}], "range": [37, 491]},
"axis": {"orient": "bottom", "offset": -81, "format": "%Y-%m-%d", "labelAngle": -90, "labelFontSize": 11, "labelColor": "#404040", "labelPadding": 4, "ticks": false, "domain": false, "grid": false, "title": null, "labelOverlap": false, "labelFlush": false, "labelBound": false,
"values": [{"year":2024,"month":4,"date":1,"utc":true},{"year":2024,"month":4,"date":11,"utc":true},{"year":2024,"month":4,"date":21,"utc":true},{"year":2024,"month":5,"date":1,"utc":true},{"year":2024,"month":5,"date":11,"utc":true},{"year":2024,"month":5,"date":21,"utc":true},{"year":2024,"month":5,"date":31,"utc":true},{"year":2024,"month":6,"date":10,"utc":true},{"year":2024,"month":6,"date":20,"utc":true},{"year":2024,"month":6,"date":30,"utc":true},{"year":2024,"month":7,"date":10,"utc":true},{"year":2024,"month":7,"date":20,"utc":true},{"year":2024,"month":7,"date":30,"utc":true},{"year":2024,"month":8,"date":9,"utc":true},{"year":2024,"month":8,"date":19,"utc":true},{"year":2024,"month":8,"date":29,"utc":true},{"year":2024,"month":9,"date":8,"utc":true},{"year":2024,"month":9,"date":18,"utc":true},{"year":2024,"month":9,"date":28,"utc":true},{"year":2024,"month":10,"date":8,"utc":true},{"year":2024,"month":10,"date":18,"utc":true},{"year":2024,"month":10,"date":28,"utc":true},{"year":2024,"month":11,"date":7,"utc":true},{"year":2024,"month":11,"date":17,"utc":true},{"year":2024,"month":11,"date":27,"utc":true},{"year":2024,"month":12,"date":7,"utc":true},{"year":2024,"month":12,"date":17,"utc":true},{"year":2024,"month":12,"date":27,"utc":true}]}},
"y": {"field": "v", "type": "quantitative",
"scale": {"domain": [1.5, 2.9], "range": [229, 38], "zero": false, "nice": false},
"axis": {"orient": "left", "offset": -37, "values": [1.5,1.7,1.9,2.1,2.3,2.5,2.7,2.9], "labelExpr": "replace(format(datum.value, '.1f'), '.', '. ')", "labelFontSize": 11, "labelColor": "#404040", "labelPadding": 13, "ticks": false, "domain": false, "grid": true, "gridColor": "#e3e3e3", "gridWidth": 1, "title": "%", "titleAngle": 0, "titleX": -15, "titleY": 24, "titleAlign": "center", "titleBaseline": "middle", "titleFontSize": 11, "titleFontWeight": "normal", "titleColor": "#404040"}},
"color": {"field": "s", "type": "nominal",
"scale": {"domain": ["1年","3年","5年","10年"], "range": ["#1c56a5","#ffc000","#7080bb","#b4bcdc"]},
"legend": {"orient": "none", "legendX": 110, "legendY": 11, "columns": 2, "direction": "horizontal", "title": null, "symbolType": "stroke", "symbolSize": 576, "symbolStrokeWidth": 2, "labelFont": "Noto Sans CJK SC", "labelFontSize": 11, "labelColor": "#000000", "rowPadding": 4, "columnPadding": 6, "labelOffset": 4, "labelLimit": 300, "labelExpr": "'二级资本债(AAA-):' + datum.label"}}
}
},
{
"data": {"name": "b"},
"mark": {"type": "line", "strokeWidth": 2},
"encoding": {
"x": {"field": "d", "type": "temporal",
"scale": {"type": "utc", "domain": [{"year":2025,"month":4,"date":1,"utc":true},{"year":2025,"month":12,"date":31,"utc":true}], "range": [586.3, 1039.5]},
"axis": {"orient": "bottom", "offset": -86, "format": "%Y-%m-%d", "labelAngle": -90, "labelFontSize": 11, "labelColor": "#404040", "labelPadding": 4, "ticks": false, "domain": false, "grid": false, "title": null, "labelOverlap": false, "labelFlush": false, "labelBound": false,
"values": [{"year":2025,"month":4,"date":1,"utc":true},{"year":2025,"month":4,"date":11,"utc":true},{"year":2025,"month":4,"date":21,"utc":true},{"year":2025,"month":5,"date":1,"utc":true},{"year":2025,"month":5,"date":11,"utc":true},{"year":2025,"month":5,"date":21,"utc":true},{"year":2025,"month":5,"date":31,"utc":true},{"year":2025,"month":6,"date":10,"utc":true},{"year":2025,"month":6,"date":20,"utc":true},{"year":2025,"month":6,"date":30,"utc":true},{"year":2025,"month":7,"date":10,"utc":true},{"year":2025,"month":7,"date":20,"utc":true},{"year":2025,"month":7,"date":30,"utc":true},{"year":2025,"month":8,"date":9,"utc":true},{"year":2025,"month":8,"date":19,"utc":true},{"year":2025,"month":8,"date":29,"utc":true},{"year":2025,"month":9,"date":8,"utc":true},{"year":2025,"month":9,"date":18,"utc":true},{"year":2025,"month":9,"date":28,"utc":true},{"year":2025,"month":10,"date":8,"utc":true},{"year":2025,"month":10,"date":18,"utc":true},{"year":2025,"month":10,"date":28,"utc":true},{"year":2025,"month":11,"date":7,"utc":true},{"year":2025,"month":11,"date":17,"utc":true},{"year":2025,"month":11,"date":27,"utc":true},{"year":2025,"month":12,"date":7,"utc":true},{"year":2025,"month":12,"date":17,"utc":true},{"year":2025,"month":12,"date":27,"utc":true}]}},
"y": {"field": "v", "type": "quantitative",
"scale": {"domain": [1.5, 2.7], "range": [224, 37], "zero": false, "nice": false},
"axis": {"orient": "left", "offset": -586.3, "values": [1.5,1.7,1.9,2.1,2.3,2.5,2.7], "labelExpr": "replace(format(datum.value, '.1f'), '.', '. ')", "labelFontSize": 11, "labelColor": "#404040", "labelPadding": 15, "ticks": false, "domain": false, "grid": true, "gridColor": "#e3e3e3", "gridWidth": 1, "title": "%", "titleAngle": 0, "titleX": -18, "titleY": 21, "titleAlign": "center", "titleBaseline": "middle", "titleFontSize": 11, "titleFontWeight": "normal", "titleColor": "#404040"}},
"color": {"field": "s", "type": "nominal",
"scale": {"domain": ["1年","3年","5年","10年"], "range": ["#1c56a5","#ffc000","#7080bb","#b4bcdc"]},
"legend": {"orient": "none", "legendX": 660, "legendY": 11, "columns": 2, "direction": "horizontal", "title": null, "symbolType": "stroke", "symbolSize": 576, "symbolStrokeWidth": 2, "labelFont": "Noto Sans CJK SC", "labelFontSize": 11, "labelColor": "#000000", "rowPadding": 4, "columnPadding": 6, "labelOffset": 4, "labelLimit": 300, "labelExpr": "'二级资本债(AAA-):' + datum.label"}}
}
},
{
"data": {"name": "a"},
"mark": {"type": "rule", "opacity": 0},
"encoding": {"x": {"field": "d", "type": "temporal", "scale": {"range": [0, 509]}, "axis": {"orient": "top", "domainColor": "#2f6db5", "domainWidth": 1.5, "labels": false, "ticks": false, "grid": false, "title": "图10：\u3000 2024 年 4 月以来二永债走势", "titleX": 0, "titleY": -6.5, "titleAlign": "left", "titleAnchor": "start", "titleAngle": 0, "titleBaseline": "alphabetic", "titleFont": "Noto Sans CJK SC", "titleFontSize": 22, "titleFontWeight": "normal", "titleColor": "#404040"}}}
},
{
"data": {"name": "a"},
"mark": {"type": "rule", "opacity": 0},
"encoding": {"x": {"field": "d", "type": "temporal", "scale": {"range": [0, 509]}, "axis": {"orient": "bottom", "domainColor": "#2f6db5", "domainWidth": 1.5, "labels": false, "ticks": false, "grid": false, "title": "数据来源：Wind，财通证券研究所", "titleX": 0, "titleY": 15, "titleAlign": "left", "titleAnchor": "start", "titleAngle": 0, "titleBaseline": "middle", "titleFont": "Noto Sans CJK SC", "titleFontSize": 15.5, "titleFontWeight": "normal", "titleColor": "#595959"}}}
},
{
"data": {"name": "b"},
"mark": {"type": "rule", "opacity": 0},
"encoding": {"x": {"field": "d", "type": "temporal", "scale": {"range": [548, 1077]}, "axis": {"orient": "top", "domainColor": "#2f6db5", "domainWidth": 1.5, "labels": false, "ticks": false, "grid": false, "title": "图11：\u3000 2025 年 4 月以来二永债走势", "titleX": 550, "titleY": -6.5, "titleAlign": "left", "titleAnchor": "start", "titleAngle": 0, "titleBaseline": "alphabetic", "titleFont": "Noto Sans CJK SC", "titleFontSize": 22, "titleFontWeight": "normal", "titleColor": "#404040"}}}
},
{
"data": {"name": "b"},
"mark": {"type": "rule", "opacity": 0},
"encoding": {"x": {"field": "d", "type": "temporal", "scale": {"range": [548, 1077]}, "axis": {"orient": "bottom", "domainColor": "#2f6db5", "domainWidth": 1.5, "labels": false, "ticks": false, "grid": false, "title": "数据来源：Wind，财通证券研究所", "titleX": 549, "titleY": 15, "titleAlign": "left", "titleAnchor": "start", "titleAngle": 0, "titleBaseline": "middle", "titleFont": "Noto Sans CJK SC", "titleFontSize": 15.5, "titleFontWeight": "normal", "titleColor": "#595959"}}}
}
],
"resolve": {"scale": {"x": "independent", "y": "independent", "color": "independent"}}
}
